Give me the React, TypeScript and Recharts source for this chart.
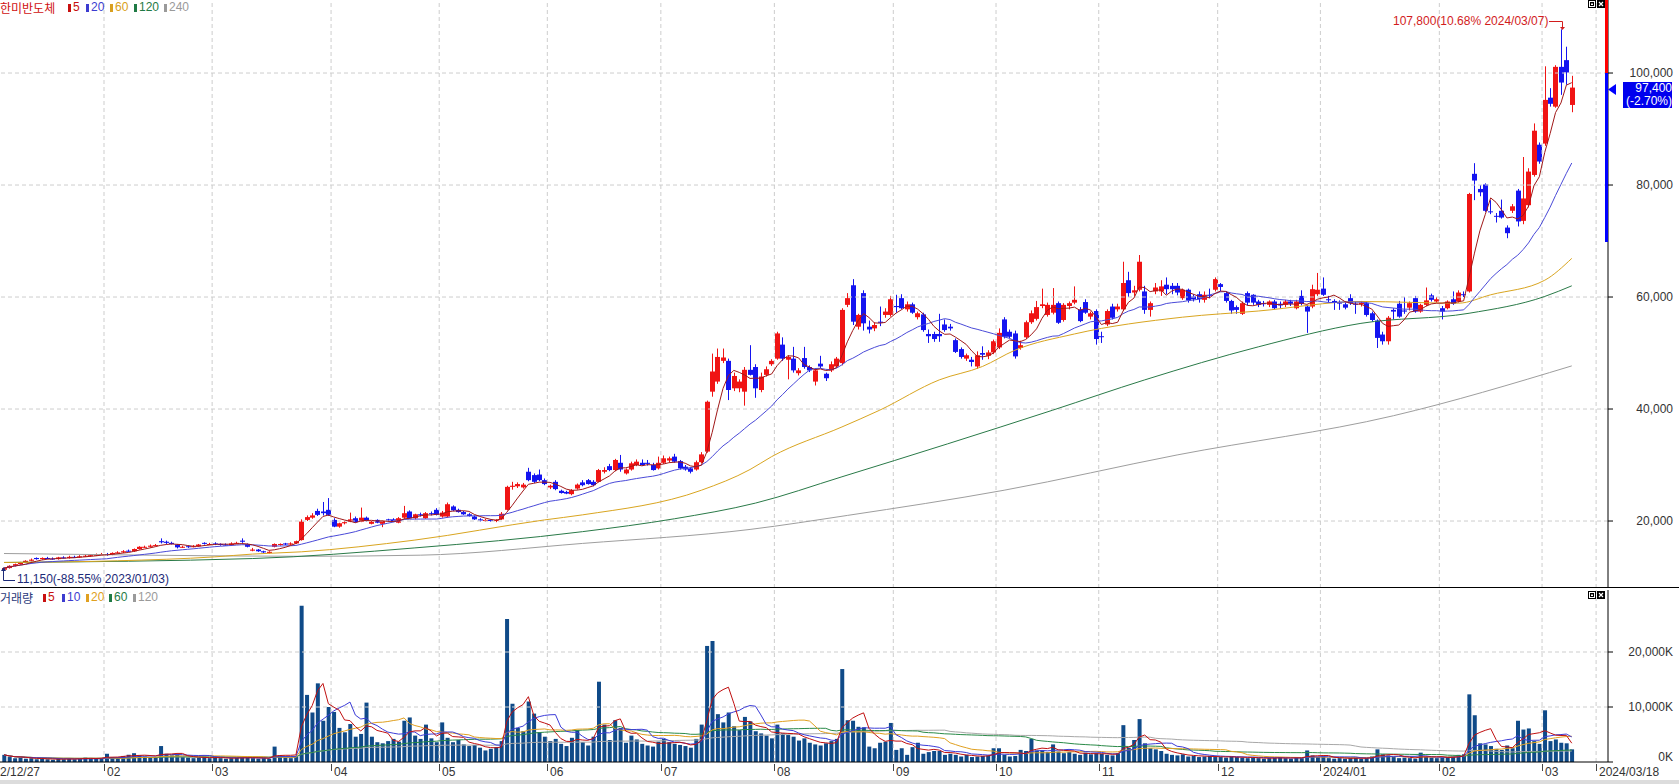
import React from 'react';
import { ComposedChart, Bar, Line, XAxis, YAxis, ReferenceLine } from 'recharts';

// ---------- DATA (prices in thousand won: [open, high, low, close]) ----------
const START_INDEX = 4; // 2023/01/03 is trading-day index 4 (22/12/27 = 0)

const jan23 = [
  [11.3, 11.7, 11.15, 11.6], [11.6, 12.1, 11.5, 12.0], [12.0, 12.4, 11.9, 12.3], [12.3, 12.7, 12.2, 12.6],
  [12.6, 13.0, 12.5, 12.9], [12.9, 13.3, 12.8, 13.1], [13.4, 13.5, 13.1, 13.2], [13.2, 13.5, 13.1, 13.4],
  [13.4, 13.6, 13.2, 13.3], [13.3, 13.5, 13.1, 13.2], [13.2, 13.6, 13.1, 13.5], [13.5, 13.7, 13.3, 13.4],
  [13.4, 13.8, 13.3, 13.6], [13.6, 13.8, 13.4, 13.5], [13.5, 13.9, 13.4, 13.7], [13.7, 14.0, 13.6, 13.8],
  [13.8, 14.0, 13.6, 13.9], [13.9, 14.2, 13.8, 14.0], [14.0, 14.3, 13.9, 14.1],
];
const feb23 = [
  [14.1, 14.3, 13.8, 14.0], [14.0, 14.4, 13.9, 14.3], [14.3, 14.6, 14.2, 14.4], [14.4, 14.8, 14.3, 14.6],
  [14.7, 14.9, 14.5, 14.6], [14.6, 15.1, 14.5, 15.0], [15.0, 15.5, 14.9, 15.4], [15.3, 15.6, 15.2, 15.4],
  [15.4, 15.8, 15.3, 15.6], [15.6, 15.9, 15.5, 15.7], [16.4, 16.9, 16.0, 16.2], [16.3, 16.5, 15.9, 16.1],
  [16.1, 16.3, 15.8, 15.9], [15.8, 15.9, 15.1, 15.3], [15.3, 15.6, 15.2, 15.4], [15.5, 15.6, 15.2, 15.4],
  [15.4, 15.7, 15.3, 15.5], [15.5, 15.9, 15.4, 15.8], [16.1, 16.2, 15.8, 16.0], [15.8, 16.1, 15.7, 15.9],
];
const mar23 = [
  [16.0, 16.2, 15.7, 15.9], [15.9, 16.0, 15.6, 15.8], [15.8, 16.0, 15.6, 15.7], [15.7, 16.2, 15.6, 16.0],
  [16.0, 16.3, 15.9, 16.1], [16.5, 16.9, 16.1, 16.3], [15.9, 16.0, 15.3, 15.4], [14.7, 15.2, 14.6, 14.9],
  [14.9, 15.0, 14.5, 14.6], [14.6, 14.7, 14.3, 14.4], [14.3, 14.6, 14.2, 14.5], [15.4, 16.0, 15.3, 15.9],
  [15.8, 16.0, 15.6, 15.9], [16.0, 16.1, 15.7, 15.8], [15.8, 16.2, 15.7, 16.0], [16.0, 16.5, 15.9, 16.4],
  [16.6, 20.3, 16.5, 19.9], [20.2, 21.0, 20.0, 20.7], [20.6, 21.4, 20.4, 21.0], [21.8, 22.2, 20.9, 21.1],
  [21.7, 23.4, 21.0, 21.4], [22.0, 24.1, 20.9, 21.1],
];
const apr23 = [
  [20.2, 20.5, 18.9, 19.0], [19.0, 19.7, 18.8, 19.6], [19.6, 20.0, 19.4, 19.8], [19.9, 21.5, 19.8, 20.3],
  [20.5, 20.8, 19.7, 19.8], [19.9, 22.4, 19.8, 20.6], [20.6, 20.8, 19.9, 20.0], [19.5, 20.0, 19.4, 19.9],
  [20.2, 20.3, 19.6, 19.7], [19.5, 20.1, 18.9, 20.0], [20.3, 20.4, 19.9, 20.1], [20.3, 20.5, 19.8, 19.9],
  [19.7, 20.7, 19.6, 20.5], [20.6, 22.7, 20.4, 21.4], [21.7, 21.9, 20.4, 20.5], [20.5, 21.3, 20.3, 21.2],
  [21.2, 21.5, 20.8, 21.0], [20.5, 21.6, 20.4, 21.4], [21.4, 21.7, 21.0, 21.3], [22.0, 22.3, 21.0, 21.1],
];
const may23 = [
  [20.8, 21.8, 20.6, 21.5], [20.8, 23.3, 20.6, 23.0], [22.6, 22.8, 21.8, 21.9], [22.0, 22.2, 21.5, 21.6],
  [21.6, 21.8, 21.1, 21.2], [21.2, 21.4, 20.8, 20.9], [20.8, 21.0, 20.2, 20.3], [20.3, 20.5, 19.9, 20.1],
  [20.0, 20.4, 19.9, 20.2], [20.2, 20.3, 19.9, 20.0], [20.0, 20.3, 19.8, 20.2], [20.3, 21.6, 20.2, 21.3],
  [22.0, 26.3, 21.9, 26.1], [26.1, 27.0, 25.6, 26.3], [26.2, 26.9, 25.9, 26.6], [26.0, 26.8, 25.8, 26.5],
  [28.8, 29.5, 27.1, 27.3], [28.2, 28.5, 26.8, 27.0], [28.3, 29.2, 27.1, 27.3], [27.3, 27.6, 26.4, 26.6],
];
const jun23 = [
  [26.0, 26.5, 25.7, 26.3], [27.0, 27.3, 25.5, 25.7], [25.4, 25.6, 24.9, 25.0], [25.2, 25.4, 24.8, 24.9],
  [24.8, 25.7, 24.6, 25.5], [25.8, 26.7, 25.6, 26.5], [26.9, 27.3, 26.2, 26.4], [27.3, 27.5, 26.5, 26.6],
  [27.0, 27.3, 26.2, 26.4], [27.0, 29.3, 26.9, 29.1], [28.8, 29.6, 28.5, 29.1], [29.8, 30.2, 28.9, 29.1],
  [29.1, 31.1, 28.9, 30.9], [30.4, 31.8, 28.8, 29.2], [28.5, 29.4, 28.3, 29.2], [29.2, 30.6, 29.0, 30.3],
  [30.0, 31.0, 29.8, 30.6], [30.4, 31.0, 29.9, 30.0], [30.4, 30.9, 29.9, 30.2], [30.0, 30.4, 29.0, 29.1],
  [29.4, 31.5, 29.2, 30.4],
];
const jul23 = [
  [30.4, 31.7, 30.2, 31.2], [30.8, 31.5, 30.5, 31.2], [31.5, 32.0, 30.4, 30.6], [30.7, 30.9, 29.2, 29.4],
  [29.7, 30.0, 29.0, 29.2], [29.4, 29.6, 28.5, 28.8], [29.2, 30.8, 29.0, 30.5], [30.5, 32.3, 30.3, 31.9],
  [32.4, 41.5, 32.2, 41.3], [43.1, 49.9, 42.2, 46.7], [44.9, 50.8, 44.5, 49.3], [48.6, 50.8, 48.2, 49.2],
  [48.6, 49.0, 41.6, 43.4], [43.7, 46.5, 43.2, 45.9], [43.7, 45.3, 43.0, 44.9], [43.1, 47.5, 40.6, 47.0],
  [47.0, 51.4, 46.0, 46.1], [47.5, 48.0, 42.0, 43.7], [43.4, 46.5, 43.0, 45.8], [46.1, 47.6, 45.8, 47.1],
  [48.0, 48.9, 47.7, 48.6],
];
const aug23 = [
  [49.0, 53.8, 48.8, 53.5], [51.5, 52.8, 48.6, 49.0], [48.8, 49.6, 45.3, 49.3], [49.0, 51.1, 46.5, 46.9],
  [46.4, 47.3, 46.0, 46.9], [49.1, 51.1, 47.2, 47.5], [47.5, 47.8, 46.6, 46.9], [44.9, 47.2, 44.2, 46.9],
  [48.1, 49.5, 47.3, 47.6], [46.3, 46.5, 45.0, 45.5], [46.9, 48.5, 46.6, 48.0], [47.6, 49.3, 47.4, 49.0],
  [48.2, 58.0, 47.8, 57.7], [58.6, 60.7, 58.2, 59.8], [62.1, 63.2, 55.0, 55.6], [54.7, 57.0, 54.2, 56.8],
  [60.7, 61.2, 54.0, 55.3], [54.7, 55.8, 53.5, 54.2], [54.4, 55.5, 53.9, 55.0], [55.6, 58.3, 54.8, 55.4],
  [56.8, 58.0, 56.3, 57.4], [56.8, 60.2, 56.5, 59.6],
];
const sep23 = [
  [58.4, 60.4, 57.2, 58.2], [59.8, 60.5, 57.8, 58.0], [57.8, 59.2, 57.4, 58.7], [58.7, 59.0, 57.0, 57.2],
  [56.4, 57.4, 56.0, 57.1], [56.9, 57.2, 53.8, 54.1], [53.4, 54.2, 51.8, 53.0], [53.4, 53.8, 52.0, 52.5],
  [53.4, 57.0, 52.0, 53.0], [55.1, 56.0, 53.8, 54.1], [54.7, 55.2, 54.0, 54.4], [52.3, 52.6, 50.0, 50.2],
  [50.7, 51.0, 49.0, 49.3], [49.0, 49.9, 48.6, 49.6], [48.8, 49.3, 47.6, 48.4], [47.6, 50.3, 47.2, 49.6],
  [50.0, 51.2, 48.8, 49.7], [49.5, 50.5, 48.9, 50.1], [50.1, 52.4, 49.8, 52.1],
];
const oct23 = [
  [51.0, 54.4, 50.7, 53.6], [56.0, 56.4, 52.6, 52.9], [53.8, 54.2, 52.6, 52.9], [53.5, 54.0, 49.0, 49.4],
  [50.9, 52.2, 50.6, 51.4], [52.8, 55.8, 52.5, 55.5], [55.5, 57.6, 55.2, 57.1], [56.1, 59.3, 55.8, 58.2],
  [58.4, 61.5, 58.0, 58.7], [56.8, 59.0, 56.5, 58.6], [57.2, 61.6, 56.9, 58.6], [58.9, 59.2, 55.2, 55.4],
  [55.9, 58.9, 55.6, 58.6], [58.4, 59.2, 57.8, 58.9], [59.0, 61.9, 58.7, 59.5], [57.8, 58.2, 55.5, 55.7],
  [59.1, 59.6, 57.0, 57.2], [56.5, 57.4, 56.0, 57.1], [57.5, 57.8, 51.5, 52.5],
];
const nov23 = [
  [53.0, 53.8, 51.8, 52.9], [55.1, 57.8, 54.8, 57.5], [58.3, 58.8, 56.0, 56.3], [57.8, 58.8, 57.4, 58.3],
  [57.8, 66.3, 57.5, 62.5], [63.0, 64.5, 60.0, 60.7], [60.8, 62.0, 60.2, 61.2], [61.3, 67.5, 61.0, 66.3],
  [61.0, 62.0, 57.0, 57.7], [57.7, 59.2, 56.5, 58.9], [61.0, 62.5, 60.5, 61.7], [61.0, 63.0, 60.2, 61.9],
  [62.2, 63.5, 60.5, 61.4], [62.0, 62.5, 60.5, 61.4], [62.0, 62.5, 60.3, 60.8], [59.8, 61.5, 59.5, 61.3],
  [61.3, 61.5, 59.0, 59.4], [60.1, 60.5, 59.2, 59.6], [60.5, 61.0, 59.0, 59.6], [59.5, 61.0, 59.0, 60.4],
  [60.4, 61.5, 59.8, 60.3], [61.3, 63.5, 61.0, 63.2],
];
const dec23 = [
  [62.3, 62.5, 61.0, 61.8], [60.7, 61.0, 59.0, 59.3], [59.3, 59.5, 57.0, 57.6], [58.2, 58.5, 57.0, 57.7],
  [57.0, 59.2, 56.8, 58.9], [60.7, 61.0, 58.5, 59.0], [60.4, 60.5, 58.6, 59.0], [59.2, 59.5, 58.2, 58.6],
  [58.9, 59.3, 58.3, 58.8], [58.6, 59.4, 58.2, 59.2], [59.2, 59.5, 57.8, 58.0], [58.8, 59.2, 58.0, 58.5],
  [58.6, 59.5, 58.2, 59.2], [59.2, 59.5, 58.4, 58.8], [58.0, 59.5, 57.8, 59.2], [60.2, 61.2, 58.5, 58.8],
  [58.3, 58.6, 53.6, 57.4], [58.3, 62.2, 58.0, 61.4], [60.5, 64.3, 60.2, 61.3],
];
const jan24 = [
  [61.5, 63.5, 60.2, 60.4], [59.6, 60.2, 59.0, 59.5], [59.3, 59.6, 57.7, 59.1], [59.0, 59.4, 57.7, 58.9],
  [58.7, 59.0, 57.8, 58.1], [59.8, 60.5, 58.6, 58.9], [58.8, 59.2, 57.0, 58.7], [58.7, 59.3, 58.3, 59.0],
  [58.9, 59.2, 56.5, 56.8], [57.1, 57.4, 55.6, 55.9], [55.8, 56.0, 50.9, 52.7], [53.3, 53.8, 51.5, 52.1],
  [52.1, 56.6, 51.5, 56.3], [57.7, 58.0, 56.0, 57.4], [58.8, 59.3, 56.3, 56.5], [57.6, 60.0, 57.0, 57.4],
  [58.1, 59.2, 57.6, 58.9], [59.8, 60.2, 57.2, 57.4], [57.4, 58.8, 57.2, 58.6], [58.6, 61.7, 58.4, 59.4],
  [60.3, 60.6, 59.2, 59.5], [59.2, 60.0, 59.0, 59.6],
];
const feb24 = [
  [58.0, 58.4, 56.0, 57.4], [58.0, 59.4, 57.8, 59.2], [59.6, 61.0, 58.6, 58.8], [59.2, 61.2, 59.0, 60.8],
  [60.5, 61.0, 60.0, 60.4], [61.0, 78.6, 60.8, 78.4], [82.0, 83.9, 77.3, 80.8], [79.3, 80.0, 78.0, 78.7],
  [80.1, 80.3, 75.2, 75.4], [75.3, 77.3, 74.8, 75.2], [74.5, 75.0, 73.3, 74.4], [75.4, 77.4, 74.0, 74.2],
  [72.4, 72.8, 70.5, 71.4], [75.4, 76.6, 75.0, 76.2], [79.0, 79.3, 72.6, 73.5], [73.6, 85.0, 73.0, 77.6],
  [76.4, 83.0, 76.0, 82.4], [81.8, 91.0, 81.5, 89.7], [87.2, 87.6, 83.8, 84.2],
];
const mar24 = [
  [87.4, 101.2, 87.0, 95.2], [95.6, 97.3, 94.0, 94.5], [94.0, 101.4, 93.8, 101.1],
  [101.1, 107.8, 96.1, 98.3], [102.3, 104.7, 97.9, 100.1], [94.3, 99.5, 93.0, 97.4],
];

// volume in thousand shares (K)
const volJan23 = [1300, 900, 700, 800, 600, 700, 500, 600, 500, 400, 600, 500, 700, 500, 600, 800, 700, 600, 700];
const volFeb23 = [1500, 900, 800, 1100, 1300, 1600, 1200, 1000, 800, 900, 2900, 1500, 1200, 1300, 900, 800, 700, 800, 1000, 700];
const volMar23 = [800, 700, 600, 700, 800, 900, 800, 700, 600, 700, 600, 2800, 1200, 800, 700, 900, 28400, 12200, 9000, 14300, 7500, 10000];
const volApr23 = [9100, 6200, 5400, 6900, 4600, 5100, 10800, 4600, 3600, 3400, 3800, 4200, 3700, 7500, 8100, 4800, 4200, 6800, 4300, 3600];
const volMay23 = [7200, 4400, 3600, 4000, 3200, 2900, 3100, 2600, 2100, 2400, 2700, 3800, 26000, 10600, 6200, 5600, 11000, 8800, 5400, 4600];
const volJun23 = [3800, 4200, 3300, 2900, 4400, 5800, 3600, 3000, 4600, 14600, 6800, 4000, 7600, 6200, 3500, 4800, 4100, 3300, 3000, 2800, 3700];
const volJul23 = [4200, 3600, 3300, 3100, 2900, 2600, 4200, 6800, 21100, 22000, 8700, 7200, 9000, 6500, 5800, 8200, 7400, 5600, 5200, 4800, 4300];
const volAug23 = [6800, 5200, 4900, 4600, 3900, 4300, 3500, 3200, 3000, 3400, 3800, 4200, 16900, 7600, 7500, 6400, 6300, 2800, 2500, 3500, 3700, 7100];
const volSep23 = [2200, 2500, 1300, 2700, 3500, 1500, 1800, 2000, 2000, 1300, 1500, 1300, 1000, 1300, 900, 1000, 1100, 1200, 2500];
const volOct23 = [2500, 1300, 1000, 1100, 2200, 2000, 4200, 2100, 2100, 1800, 3200, 1900, 1600, 1800, 1500, 1300, 1700, 1400, 1600];
const volNov23 = [1500, 1300, 1200, 1600, 6700, 2600, 4000, 7800, 3400, 2500, 2300, 2000, 1500, 1300, 1200, 1400, 1000, 1100, 900, 1000, 1100, 900];
const volDec23 = [900, 800, 1000, 900, 800, 700, 800, 700, 600, 700, 800, 900, 700, 600, 800, 700, 2100, 1200, 900];
const volJan24 = [1000, 700, 600, 700, 600, 700, 800, 600, 700, 1000, 2300, 1400, 1200, 900, 700, 800, 700, 600, 1700, 900, 800, 700];
const volFeb24 = [800, 900, 1000, 1300, 1400, 12300, 8500, 3400, 3200, 2900, 2400, 2200, 3000, 2500, 7500, 5900, 6100, 3800, 3300];
const volMar24 = [9400, 3800, 4100, 3500, 3400, 2300];

// long moving averages (index, thousand won)
const ma60Index = [4, 25, 43, 50, 59, 80, 104, 111, 133, 142, 146, 159, 166, 177, 185, 191, 202, 222, 236, 255, 273, 279, 289, 294];
const ma60Value = [12.6, 12.9, 13.6, 14.1, 14.5, 16.6, 20.2, 21.1, 25.5, 29.2, 31.5, 36.8, 39.8, 45.2, 47.6, 50.5, 53.4, 56.4, 57.5, 59.2, 58.9, 60.4, 63.0, 66.9];
const ma120Index = [4, 50, 80, 111, 128, 143, 159, 198, 215, 236, 255, 275, 289, 294];
const ma120Value = [12.6, 13.3, 15.2, 18.1, 20.4, 23.2, 27.9, 39.8, 45.2, 51.1, 55.3, 57.1, 60.1, 62.0];
const ma240Index = [4, 31, 59, 81, 111, 142, 160, 189, 221, 261, 294];
const ma240Value = [14.2, 13.9, 13.7, 13.9, 16.0, 18.5, 21.0, 25.5, 31.8, 38.8, 47.7];

// axis ticks
const monthTickPos = [3.26, 22.5, 42.5, 64.5, 84.5, 104.5, 125.5, 146.5, 168.5, 187.5, 206.5, 228.5, 247.5, 269.5, 288.5, 298.5];
const monthTickLabels = ['2/12/27', '02', '03', '04', '05', '06', '07', '08', '09', '10', '11', '12', '2024/01', '02', '03', '2024/03/18'];
const priceTicks = [20000, 40000, 60000, 80000, 100000];
const volumeTicks = [0, 10000, 20000];

// ---------- STYLE ----------
const UP = '#f01414';
const DOWN = '#1414f0';
const GRID = '#cdcdcd';
const X_DOMAIN: [number, number] = [3.26, 300.7];
const PRICE_DOMAIN: [number, number] = [8040, 113040];
const VOL_DOMAIN: [number, number] = [0, 31273];
const NUM_FONT = '"Liberation Sans", Arial, sans-serif';
const KR_FONT = '"Noto Sans CJK KR", "Noto Sans", sans-serif';

const priceMonths = [jan23, feb23, mar23, apr23, may23, jun23, jul23, aug23, sep23, oct23, nov23, dec23, jan24, feb24, mar24];
const volumeMonths = [volJan23, volFeb23, volMar23, volApr23, volMay23, volJun23, volJul23, volAug23, volSep23, volOct23, volNov23, volDec23, volJan24, volFeb24, volMar24];

function avgBack(arr: number[], n: number, k: number) {
  const s = Math.max(0, k - n + 1);
  let sum = 0;
  for (let j = s; j <= k; j++) sum += arr[j];
  return sum / (k - s + 1);
}

function buildRows() {
  const rows: any[] = [];
  let idx = START_INDEX;
  priceMonths.forEach((m, mi) => {
    m.forEach((c, j) => {
      rows.push({
        i: idx,
        o: c[0] * 1000, h: c[1] * 1000, l: c[2] * 1000, c: c[3] * 1000,
        range: [c[2] * 1000, c[1] * 1000],
        vol: volumeMonths[mi][j],
      });
      idx++;
    });
  });
  const closes = rows.map((r) => r.c);
  const vols = rows.map((r) => r.vol);
  rows.forEach((r, k) => {
    r.ma5 = avgBack(closes, 5, k);
    r.ma20 = avgBack(closes, 20, k);
    r.v5 = avgBack(vols, 5, k);
    r.v10 = avgBack(vols, 10, k);
    r.v20 = avgBack(vols, 20, k);
    r.v60 = avgBack(vols, 60, k);
    r.v120 = avgBack(vols, 120, k);
  });
  const byIdx: Record<number, any> = {};
  rows.forEach((r) => (byIdx[r.i] = r));
  ma60Index.forEach((ix, k) => { if (byIdx[ix]) byIdx[ix].ma60 = ma60Value[k] * 1000; });
  ma120Index.forEach((ix, k) => { if (byIdx[ix]) byIdx[ix].ma120 = ma120Value[k] * 1000; });
  ma240Index.forEach((ix, k) => { if (byIdx[ix]) byIdx[ix].ma240 = ma240Value[k] * 1000; });
  return rows;
}

const rows = buildRows();

const CandleShape = (props: any) => {
  const { x, width, payload } = props;
  let { y, height } = props;
  if (!payload || y == null || height == null) return null;
  if (height < 0) { y = y + height; height = -height; }
  const { o, h, l, c } = payload;
  const cx = Math.round(x + width / 2);
  const span = h - l;
  const k = span > 0 ? height / span : 0;
  const py = (v: number) => y + (h - v) * k;
  const col = c >= o ? UP : DOWN;
  const top = py(Math.max(o, c));
  const bot = py(Math.min(o, c));
  return (
    <g>
      <line x1={cx + 0.5} x2={cx + 0.5} y1={y} y2={y + height} stroke={col} strokeWidth={1} />
      <rect x={cx - 2} y={top} width={5} height={Math.max(1, bot - top)} fill={col} />
    </g>
  );
};

const fmt = (v: number) => v.toLocaleString('en-US');

const PriceTick = (props: any) => {
  const { y, payload } = props;
  return (
    <text x={1673} y={y + 4} textAnchor="end" fontSize={12} fontFamily={NUM_FONT} fill="#333">{fmt(payload.value)}</text>
  );
};

const VolTick = (props: any) => {
  const { y, payload } = props;
  const dy = payload.value === 0 ? -1 : 4;
  return (
    <text x={1673} y={y + dy} textAnchor="end" fontSize={12} fontFamily={NUM_FONT} fill="#333">{fmt(payload.value) + 'K'}</text>
  );
};

const DateTick = (props: any) => {
  const { x, payload } = props;
  const k = monthTickPos.indexOf(payload.value);
  const label = k >= 0 ? monthTickLabels[k] : '';
  if (k === 0) {
    return <text x={0} y={188} fontSize={12} fontFamily={NUM_FONT} fill="#333">{label}</text>;
  }
  return (
    <g>
      <line x1={Math.round(x) + 0.5} x2={Math.round(x) + 0.5} y1={176} y2={183} stroke="#444" />
      <text x={Math.round(x) + 3} y={188} fontSize={12} fontFamily={NUM_FONT} fill="#333">{label}</text>
    </g>
  );
};

const legendPrice = [
  { label: '5', color: '#c81010', x: 68 },
  { label: '20', color: '#3c3cd0', x: 86 },
  { label: '60', color: '#d9a020', x: 110 },
  { label: '120', color: '#1f7a45', x: 134 },
  { label: '240', color: '#9a9a9a', x: 164 },
];
const legendVol = [
  { label: '5', color: '#c81010', x: 43 },
  { label: '10', color: '#3c3cd0', x: 62 },
  { label: '20', color: '#e0a020', x: 86 },
  { label: '60', color: '#1f7a45', x: 109 },
  { label: '120', color: '#9a9a9a', x: 133 },
];

const Legend = ({ title, titleColor, items, top }: any) => (
  <div style={{ position: 'absolute', left: 0, top, height: 15 }}>
    <span style={{ position: 'absolute', left: 0, top: 0, fontFamily: KR_FONT, fontSize: 12, lineHeight: '15px', color: titleColor, whiteSpace: 'nowrap' }}>{title}</span>
    {items.map((it: any) => (
      <React.Fragment key={it.label + it.x}>
        <span style={{ position: 'absolute', left: it.x, top: 4, width: 3, height: 8, background: it.color }} />
        <span style={{ position: 'absolute', left: it.x + 5, top: 0, fontFamily: NUM_FONT, fontSize: 12, lineHeight: '15px', color: it.color }}>{it.label}</span>
      </React.Fragment>
    ))}
  </div>
);

const PanelIcons = ({ top }: { top: number }) => (
  <svg style={{ position: 'absolute', left: 1588, top }} width={18} height={9}>
    <rect x={0.5} y={0.5} width={7} height={7} fill="#fff" stroke="#000" />
    <rect x={2} y={2} width={4} height={4} fill="#000" />
    <rect x={3} y={3.5} width={2} height={1.5} fill="#fff" />
    <rect x={9.5} y={0.5} width={7} height={7} fill="#000" stroke="#000" />
    <path d="M11 2 L15 6 M15 2 L11 6" stroke="#fff" strokeWidth={1.2} />
  </svg>
);

export default function App() {
  const gridX = monthTickPos.slice(1);
  return (
    <div style={{ position: 'absolute', left: 0, top: 0, width: 1679, height: 784, background: '#fff', overflow: 'hidden' }}>
      {/* Price panel */}
      <div style={{ position: 'absolute', left: 0, top: 0 }}>
        <ComposedChart width={1679} height={588} data={rows} margin={{ top: 0, right: 0, bottom: 0, left: 0 }}>
          <XAxis dataKey="i" type="number" domain={X_DOMAIN} hide allowDataOverflow />
          <YAxis orientation="right" width={71} domain={PRICE_DOMAIN} ticks={priceTicks} allowDataOverflow
            axisLine={{ stroke: '#000' }} tickLine={{ stroke: '#000' }} tickSize={5} tick={<PriceTick />} interval={0} />
          {priceTicks.map((t) => (
            <ReferenceLine key={'py' + t} y={t} stroke={GRID} strokeDasharray="4 3" />
          ))}
          {gridX.map((t) => (
            <ReferenceLine key={'px' + t} x={t} stroke={GRID} strokeDasharray="4 3" />
          ))}
          <Line type="monotone" dataKey="ma240" stroke="#9e9e9e" strokeWidth={1} dot={false} connectNulls isAnimationActive={false} />
          <Line type="monotone" dataKey="ma120" stroke="#2a7a48" strokeWidth={1} dot={false} connectNulls isAnimationActive={false} />
          <Line type="monotone" dataKey="ma60" stroke="#d9a520" strokeWidth={1} dot={false} connectNulls isAnimationActive={false} />
          <Line dataKey="ma20" stroke="#4a4ad8" strokeWidth={1} dot={false} isAnimationActive={false} />
          <Bar dataKey="range" barSize={5} shape={<CandleShape />} isAnimationActive={false} />
          <Line dataKey="ma5" stroke="#a01818" strokeWidth={1} dot={false} isAnimationActive={false} />
        </ComposedChart>
      </div>

      {/* Volume panel */}
      <div style={{ position: 'absolute', left: 0, top: 588 }}>
        <ComposedChart width={1679} height={196} data={rows} margin={{ top: 2, right: 0, bottom: 0, left: 0 }}>
          <XAxis dataKey="i" type="number" domain={X_DOMAIN} allowDataOverflow ticks={monthTickPos} interval={0}
            height={22} axisLine={{ stroke: '#000' }} tickLine={false} tick={<DateTick />} />
          <YAxis orientation="right" width={71} domain={VOL_DOMAIN} ticks={volumeTicks} allowDataOverflow
            axisLine={{ stroke: '#000' }} tickLine={{ stroke: '#000' }} tickSize={5} tick={<VolTick />} interval={0} />
          {volumeTicks.slice(1).map((t) => (
            <ReferenceLine key={'vy' + t} y={t} stroke={GRID} strokeDasharray="4 3" />
          ))}
          {gridX.map((t) => (
            <ReferenceLine key={'vx' + t} x={t} stroke={GRID} strokeDasharray="4 3" />
          ))}
          <Bar dataKey="vol" barSize={4} fill="#0f4a88" isAnimationActive={false} />
          <Line dataKey="v120" stroke="#a8a8a8" strokeWidth={1} dot={false} isAnimationActive={false} />
          <Line dataKey="v60" stroke="#2a8a48" strokeWidth={1} dot={false} isAnimationActive={false} />
          <Line dataKey="v20" stroke="#e0a020" strokeWidth={1} dot={false} isAnimationActive={false} />
          <Line dataKey="v10" stroke="#3c3cd8" strokeWidth={1} dot={false} isAnimationActive={false} />
          <Line dataKey="v5" stroke="#c01010" strokeWidth={1} dot={false} isAnimationActive={false} />
        </ComposedChart>
      </div>

      {/* panel separator */}
      <div style={{ position: 'absolute', left: 0, top: 587, width: 1679, height: 1, background: '#000' }} />

      {/* legends */}
      <Legend title="한미반도체" titleColor="#d01010" items={legendPrice} top={0} />
      <Legend title="거래량" titleColor="#2a3a7a" items={legendVol} top={590} />

      <PanelIcons top={0} />
      <PanelIcons top={591} />

      {/* day range bar on the price axis */}
      <div style={{ position: 'absolute', left: 1605, top: 0, width: 3, height: 73, background: '#ff0000' }} />
      <div style={{ position: 'absolute', left: 1605, top: 73, width: 3, height: 169, background: '#0000ff' }} />

      {/* current price marker */}
      <svg style={{ position: 'absolute', left: 1608, top: 83 }} width={10} height={13}>
        <polygon points="0,6.5 8,1 8,12" fill="#0000ff" />
      </svg>
      <div style={{ position: 'absolute', left: 1623, top: 82, width: 49, height: 26, background: '#0000ee', color: '#fff',
        fontFamily: NUM_FONT, fontSize: 12, lineHeight: '13px', textAlign: 'right' }}>
        <div>97,400</div>
        <div>(-2.70%)</div>
      </div>

      {/* high annotation */}
      <div style={{ position: 'absolute', left: 1393, top: 14, fontFamily: NUM_FONT, fontSize: 12, color: '#d21c1c', whiteSpace: 'nowrap' }}>
        107,800(10.68% 2024/03/07)
      </div>
      <svg style={{ position: 'absolute', left: 1548, top: 18 }} width={20} height={14}>
        <path d="M1 3.5 H14.5 V10" stroke="#d21c1c" strokeWidth={1} fill="none" />
        <polygon points="12,9 17,9 14.5,12" fill="#d21c1c" />
      </svg>

      {/* low annotation */}
      <svg style={{ position: 'absolute', left: 0, top: 566 }} width={18} height={18}>
        <polygon points="3.5,1 1,5 6,5" fill="#1c2a78" />
        <path d="M3.5 4 V14.5 H15" stroke="#1c2a78" strokeWidth={1} fill="none" />
      </svg>
      <div style={{ position: 'absolute', left: 17, top: 572, fontFamily: NUM_FONT, fontSize: 12, color: '#1c2a78', whiteSpace: 'nowrap' }}>
        11,150(-88.55% 2023/01/03)
      </div>

      {/* bottom toolbar strip */}
      <div style={{ position: 'absolute', left: 0, top: 780, width: 1679, height: 4, background: '#dcdcdc' }} />
    </div>
  );
}
